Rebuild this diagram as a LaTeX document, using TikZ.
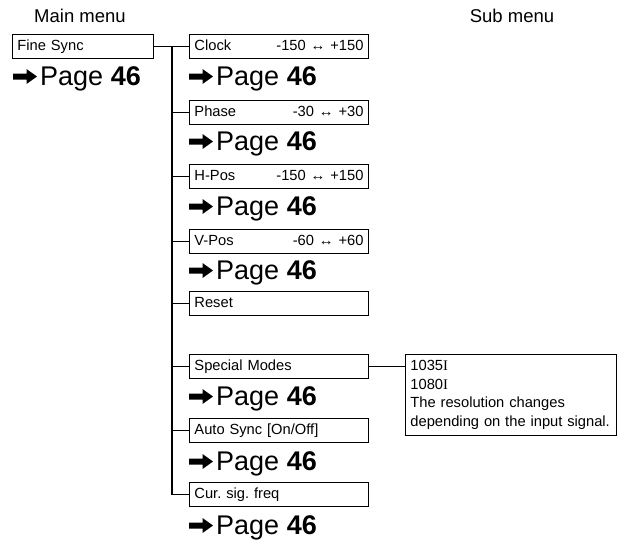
\documentclass[tikz,border=0pt]{standalone}
\usepackage{fontspec}
\usetikzlibrary{calc}
\setmainfont{Liberation Sans}
\newfontfamily\serifI{Liberation Serif}
\newcommand{\romI}{{\serifI I}}
\frenchspacing
\begin{document}
\frenchspacing
\begin{tikzpicture}[x=1pt,y=-1pt,
  mbox/.style={draw,line width=0.9pt,minimum height=24,text width=169,inner xsep=5,inner ysep=0,text height=10.5,text depth=3,align=left,anchor=north west,font=\fontsize{14.7}{16}\selectfont},
  pglab/.style={anchor=base west,inner sep=0,font=\fontsize{27}{28}\selectfont},
  hdr/.style={font=\fontsize{18.5}{20}\selectfont,inner sep=0},
  conn/.style={line width=1.3pt}]
\useasboundingbox (0,0) rectangle (618,541);
\node[hdr] (mainh) at (80,16) {Main menu};
\node[hdr] (subh) at (512,16) {Sub menu};

\node[mbox,text width=131] (fine) at (12,34) {Fine Sync};
\node[pglab] (pfine) at (40,85) {Page \textbf{46}};

\node[mbox] (clock) at (189,34) {Clock\hfill -150 ↔ +150};
\node[pglab] (pclock) at (216,85) {Page \textbf{46}};
\node[mbox] (phase) at (189,100) {Phase\hfill -30 ↔ +30};
\node[pglab] (pphase) at (216,150) {Page \textbf{46}};
\node[mbox] (hpos) at (189,164) {H-Pos\hfill -150 ↔ +150};
\node[pglab] (phpos) at (216,215) {Page \textbf{46}};
\node[mbox] (vpos) at (189,229) {V-Pos\hfill -60 ↔ +60};
\node[pglab] (pvpos) at (216,279) {Page \textbf{46}};
\node[mbox] (reset) at (189,291) {Reset};
\node[mbox] (special) at (189,354) {Special Modes};
\node[pglab] (pspecial) at (216,405) {Page \textbf{46}};
\node[mbox] (auto) at (189,418) {Auto Sync [On/Off]};
\node[pglab] (pauto) at (216,470) {Page \textbf{46}};
\node[mbox] (cur) at (189,482) {Cur. sig. freq};
\node[pglab] (pcur) at (216,534) {Page \textbf{46}};

\foreach \p in {pfine,pclock,pphase,phpos,pvpos,pspecial,pauto,pcur}
  \fill ($(\p.base west)+(-3,-8.5)$) -- ++(-10.5,-7.5) -- ++(0,4.5) -- ++(-13.5,0) -- ++(0,6) -- ++(13.5,0) -- ++(0,4.5) -- cycle;

\node[draw,line width=0.9pt,anchor=north west,text width=201,minimum height=81,inner xsep=5,inner ysep=3,align=left,font=\fontsize{14.7}{18.5}\selectfont] (modes) at (405,354) {1035\romI\\1080\romI\\The resolution changes\\depending on the input signal.};

\coordinate (trunk) at (172,46);
\draw[conn] (fine.east) -- (clock.west);
\draw[conn] (trunk) |- (cur.west);
\foreach \b in {phase,hpos,vpos,reset,special,auto}
  \draw[conn] (trunk |- \b.west) -- (\b.west);
\draw[conn] (special.east) -- (special.east -| modes.west);
\end{tikzpicture}
\end{document}
